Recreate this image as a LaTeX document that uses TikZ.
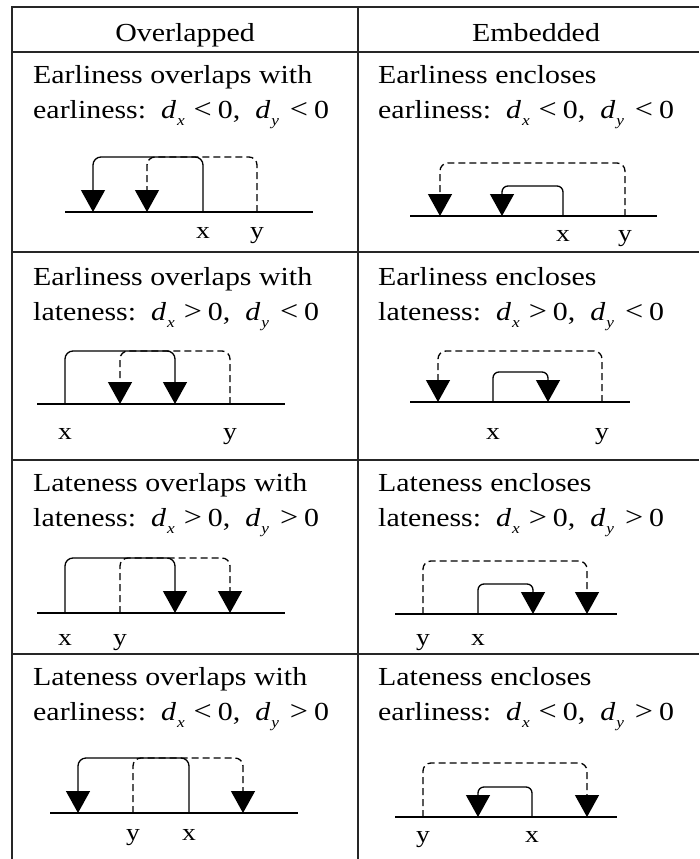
\documentclass[tikz,border=0pt]{standalone}
\usepackage{fontspec}
\setmainfont{Liberation Serif}[FakeStretch=1.15]
\usetikzlibrary{arrows.meta}
\newcommand{\dsub}[2]{\textit{#1}\kern1pt\raisebox{-7pt}{\fontsize{15}{15}\selectfont\textit{#2}}}
\newcommand{\condx}[3]{#1:\ \ \dsub{d}{x}\kern9pt{\fontsize{28}{28}\selectfont#2}\kern6pt0,\ \ \dsub{d}{y}\kern11pt{\fontsize{28}{28}\selectfont#3}\kern6pt0}
\begin{document}
\begin{tikzpicture}[x=1pt,y=-1pt,
  gridline/.style={line width=2pt, draw=black!85},
  axisline/.style={line width=1.5pt},
  sarc/.style={line width=1.3pt, rounded corners=8pt, -{Triangle[width=24pt,length=22pt]}},
  darc/.style={sarc, dash pattern=on 7pt off 4pt},
  sarcs/.style={sarc, rounded corners=6pt},
  txt/.style={anchor=base west, inner sep=0pt, font=\fontsize{26}{35}\selectfont},
  hdr/.style={anchor=base, inner sep=0pt, font=\fontsize{26}{35}\selectfont},
  lbl/.style={anchor=base, inner sep=0pt, font=\fontsize{24}{24}\selectfont}]
\useasboundingbox (0,0) rectangle (699,859);
% table
\coordinate (tl) at (12,7);
\coordinate (tr) at (699,7);
\coordinate (bl) at (12,859);
\coordinate (dt) at (358,7);
\coordinate (db) at (358,859);
\draw[gridline] (tr) -- (tl) -- (bl);
\draw[gridline] (dt) -- (db);
\foreach \yy/\nm in {52/h0,252/h1,460/h2,654/h3}{
  \coordinate (\nm l) at (12,\yy);
  \coordinate (\nm r) at (699,\yy);
  \draw[gridline] (\nm l) -- (\nm r);
}
% headers
\node[hdr] (hA) at (185,42) {Overlapped};
\node[hdr] (hB) at (536,42) {Embedded};
% texts
\node[txt] (t1a) at (33,83) {Earliness overlaps with};
\node[txt] (t1b) at (33,118) {\condx{earliness}{\textless}{\textless}};
\node[txt] (t2a) at (378,83) {Earliness encloses};
\node[txt] (t2b) at (378,118) {\condx{earliness}{\textless}{\textless}};
\node[txt] (t3a) at (33,285) {Earliness overlaps with};
\node[txt] (t3b) at (33,320) {\condx{lateness}{\textgreater}{\textless}};
\node[txt] (t4a) at (378,285) {Earliness encloses};
\node[txt] (t4b) at (378,320) {\condx{lateness}{\textgreater}{\textless}};
\node[txt] (t5a) at (33,491) {Lateness overlaps with};
\node[txt] (t5b) at (33,526) {\condx{lateness}{\textgreater}{\textgreater}};
\node[txt] (t6a) at (378,491) {Lateness encloses};
\node[txt] (t6b) at (378,526) {\condx{lateness}{\textgreater}{\textgreater}};
\node[txt] (t7a) at (33,685) {Lateness overlaps with};
\node[txt] (t7b) at (33,720) {\condx{earliness}{\textless}{\textgreater}};
\node[txt] (t8a) at (378,685) {Lateness encloses};
\node[txt] (t8b) at (378,720) {\condx{earliness}{\textless}{\textgreater}};
% ---- cell 1
\coordinate (a1l) at (65,212); \coordinate (a1r) at (313,212);
\draw[axisline] (a1l) -- (a1r);
\coordinate (s1x) at (203,212); \coordinate (k1x) at (93,157); \coordinate (e1x) at (93,212);
\coordinate (s1y) at (257,212); \coordinate (k1y) at (147,157); \coordinate (e1y) at (147,212);
\draw[sarc] (s1x) |- (k1x) -- (e1x);
\draw[darc] (s1y) |- (k1y) -- (e1y);
\node[lbl] (l1x) at (203,238) {x};
\node[lbl] (l1y) at (257,238) {y};
% ---- cell 2
\coordinate (a2l) at (410,216); \coordinate (a2r) at (657,216);
\draw[axisline] (a2l) -- (a2r);
\coordinate (s2y) at (625,216); \coordinate (k2y) at (440,163); \coordinate (e2y) at (440,216);
\coordinate (s2x) at (563,216); \coordinate (k2x) at (502,186); \coordinate (e2x) at (502,216);
\draw[darc] (s2y) |- (k2y) -- (e2y);
\draw[sarcs] (s2x) |- (k2x) -- (e2x);
\node[lbl] (l2x) at (563,241) {x};
\node[lbl] (l2y) at (625,241) {y};
% ---- cell 3
\coordinate (a3l) at (37,404); \coordinate (a3r) at (285,404);
\draw[axisline] (a3l) -- (a3r);
\coordinate (s3x) at (65,404); \coordinate (k3x) at (175,351); \coordinate (e3x) at (175,404);
\coordinate (s3y) at (230,404); \coordinate (k3y) at (120,351); \coordinate (e3y) at (120,404);
\draw[sarc] (s3x) |- (k3x) -- (e3x);
\draw[darc] (s3y) |- (k3y) -- (e3y);
\node[lbl] (l3x) at (65,439) {x};
\node[lbl] (l3y) at (230,439) {y};
% ---- cell 4
\coordinate (a4l) at (410,402); \coordinate (a4r) at (630,402);
\draw[axisline] (a4l) -- (a4r);
\coordinate (s4y) at (602,402); \coordinate (k4y) at (438,351); \coordinate (e4y) at (438,402);
\coordinate (s4x) at (493,402); \coordinate (k4x) at (548,372); \coordinate (e4x) at (548,402);
\draw[darc] (s4y) |- (k4y) -- (e4y);
\draw[sarcs] (s4x) |- (k4x) -- (e4x);
\node[lbl] (l4x) at (493,439) {x};
\node[lbl] (l4y) at (602,439) {y};
% ---- cell 5
\coordinate (a5l) at (37,613); \coordinate (a5r) at (285,613);
\draw[axisline] (a5l) -- (a5r);
\coordinate (s5x) at (65,613); \coordinate (k5x) at (175,558); \coordinate (e5x) at (175,613);
\coordinate (s5y) at (120,613); \coordinate (k5y) at (230,558); \coordinate (e5y) at (230,613);
\draw[sarc] (s5x) |- (k5x) -- (e5x);
\draw[darc] (s5y) |- (k5y) -- (e5y);
\node[lbl] (l5x) at (65,645) {x};
\node[lbl] (l5y) at (120,645) {y};
% ---- cell 6
\coordinate (a6l) at (395,614); \coordinate (a6r) at (617,614);
\draw[axisline] (a6l) -- (a6r);
\coordinate (s6y) at (423,614); \coordinate (k6y) at (587,561); \coordinate (e6y) at (587,614);
\coordinate (s6x) at (478,614); \coordinate (k6x) at (533,584); \coordinate (e6x) at (533,614);
\draw[darc] (s6y) |- (k6y) -- (e6y);
\draw[sarcs] (s6x) |- (k6x) -- (e6x);
\node[lbl] (l6y) at (423,645) {y};
\node[lbl] (l6x) at (478,645) {x};
% ---- cell 7
\coordinate (a7l) at (50,813); \coordinate (a7r) at (298,813);
\draw[axisline] (a7l) -- (a7r);
\coordinate (s7x) at (189,813); \coordinate (k7x) at (78,758); \coordinate (e7x) at (78,813);
\coordinate (s7y) at (133,813); \coordinate (k7y) at (243,758); \coordinate (e7y) at (243,813);
\draw[sarc] (s7x) |- (k7x) -- (e7x);
\draw[darc] (s7y) |- (k7y) -- (e7y);
\node[lbl] (l7y) at (133,840) {y};
\node[lbl] (l7x) at (189,840) {x};
% ---- cell 8
\coordinate (a8l) at (395,817); \coordinate (a8r) at (617,817);
\draw[axisline] (a8l) -- (a8r);
\coordinate (s8y) at (423,817); \coordinate (k8y) at (587,763); \coordinate (e8y) at (587,817);
\coordinate (s8x) at (532,817); \coordinate (k8x) at (478,787); \coordinate (e8x) at (478,817);
\draw[darc] (s8y) |- (k8y) -- (e8y);
\draw[sarcs] (s8x) |- (k8x) -- (e8x);
\node[lbl] (l8y) at (423,842) {y};
\node[lbl] (l8x) at (532,842) {x};
\end{tikzpicture}
\end{document}
